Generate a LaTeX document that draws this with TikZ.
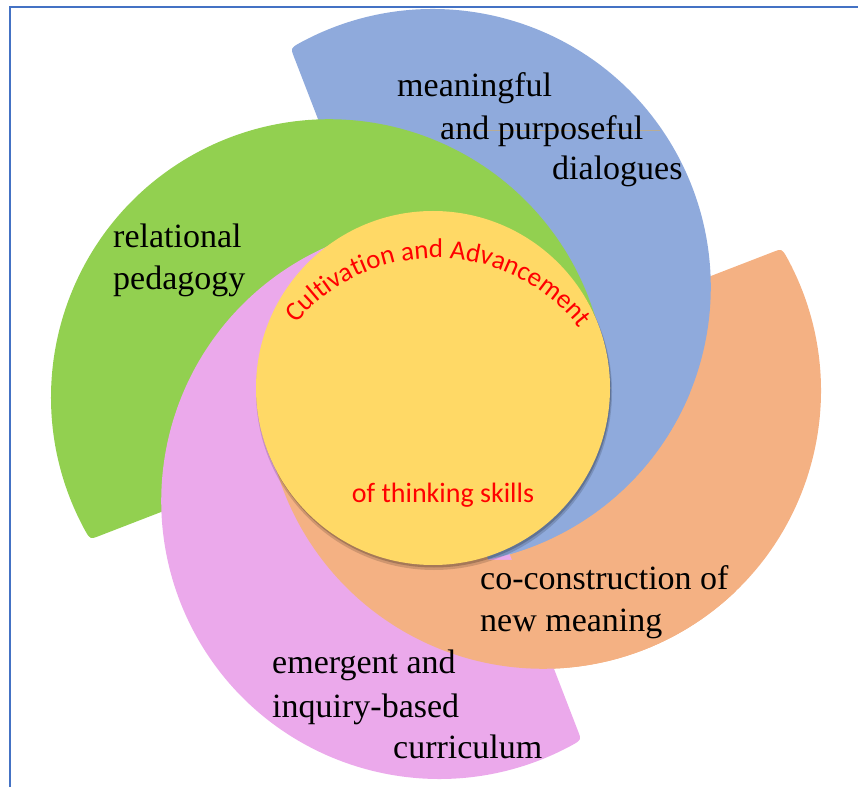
\documentclass[tikz,border=0pt]{standalone}
\usepackage{fontspec}
\setmainfont{Liberation Serif}
\newfontfamily\calib{Carlito}
\usepackage{tikz}
\usetikzlibrary{decorations.text}
\definecolor{blueswirl}{HTML}{8FAADC}
\definecolor{greenswirl}{HTML}{92D050}
\definecolor{orangeswirl}{HTML}{F4B183}
\definecolor{pinkswirl}{HTML}{EBA9EB}
\definecolor{core}{HTML}{FFD966}
\definecolor{framecol}{HTML}{4472C4}
\definecolor{rulecol}{HTML}{B9AC94}
\tikzset{label text/.style = {anchor=base west, inner sep=0pt, font=\fontsize{34}{42}\selectfont}}
\tikzset{red title/.style = {anchor=base, inner sep=0pt, text=red, font=\calib\fontsize{28}{30}\selectfont}}
% one swirl piece: rotation, colour
\newcommand{\swirl}[2]{\fill[#2, shift={(436,393)}, rotate=#1] (336.5,141.8) .. controls (345.8,145.4) .. (350.8,136.7) arc[start angle=28.7, end angle=-168.5, radius=278pt] -- cycle;}

\begin{document}
\begin{tikzpicture}[x=1pt,y=1pt]
\useasboundingbox (0,0) rectangle (858,787);

% frame
\coordinate (fb) at (10,0);
\coordinate (ft) at (10,780);
\coordinate (fr) at (858,780);
\draw[framecol, line width=1.5] (fb) -- (ft) -- (fr);

% the four pieces
\swirl{0}{orangeswirl}
\swirl{90}{blueswirl}
\swirl{180}{greenswirl}
\swirl{270}{pinkswirl}
\begin{scope}
\clip[shift={(436,393)}] (-300,0) -- (-300,-300) -- (300,-300) -- (300,-166) -- (52.6,-165.9) -- (-12,0) -- cycle;
\swirl{0}{orangeswirl}
\end{scope}
\begin{scope}
\clip[shift={(436,393)}] (0,0) rectangle (300,-300);
\swirl{90}{blueswirl}
\end{scope}

% centre circle
\fill[black, opacity=0.15] (434,395) circle (178);
\fill[black, opacity=0.2] (434,396.5) circle (177);
\fill[core] (433,399) circle (177);

\coordinate (gl1) at (440,657);
\coordinate (gl2) at (660,657);
\draw[rulecol, line width=0.8] (gl1) -- (gl2);

\node[label text] (mean) at (397,690) {meaningful};
\node[label text] (purp) at (440,647) {and purposeful};
\node[label text] (dial) at (552,607) {dialogues};
\node[label text] (rel) at (113,539) {relational};
\node[label text] (ped) at (113,497) {pedagogy};
\node[label text] (cocon) at (480,198) {co-construction of};
\node[label text] (newm) at (480,156) {new meaning};
\node[label text] (emerg) at (272,114) {emergent and};
\node[label text] (inq) at (272,70) {inquiry-based};
\node[label text] (curr) at (393,29) {curriculum};

\path[decorate, decoration={text along path, text align=center, text={|\calib\fontsize{27}{30}\selectfont\color{red}|Cultivation and Advancement}}]
  (436,347) ++(146:182) arc[start angle=146, end angle=32, radius=182pt];
\node[red title] (think) at (443,284) {of thinking skills};
\end{tikzpicture}
\end{document}
